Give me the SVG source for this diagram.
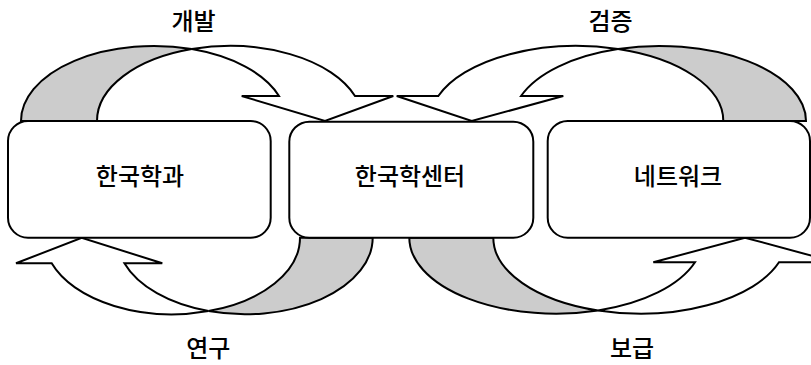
<svg xmlns="http://www.w3.org/2000/svg" width="811" height="365" viewBox="0 0 811 365">
<style>
.band{fill:#ffffff;stroke:#000;stroke-width:2;stroke-linejoin:miter}
.back{fill:#cccccc;stroke:#000;stroke-width:2}
.box{fill:#ffffff;stroke:#000;stroke-width:2}
text{font-family:"Noto Sans CJK KR","Noto Sans",sans-serif;font-size:24px;font-weight:500;fill:#000;text-anchor:middle}
</style>
<rect width="811" height="365" fill="#ffffff"/>
<g id="connectors">
  <g id="arrow-develop">
    <path class="back" d="M21,121 A132.8,75 0 0,1 191.8,49.1 A132.8,75 0 0,0 97,121 Z"/>
    <path class="band" d="M191.8,49.1 A132.8,75 0 0,1 355,96 L393.3,96 L325,121 L241.7,96 L279,96 A132.8,75 0 0,0 191.8,49.1 Z"/>
  </g>
  <g id="arrow-verify">
    <path class="back" d="M806,121 A146.7,75 0 0,0 618,49 A146.7,75 0 0,1 723.3,121 Z"/>
    <path class="band" d="M618,49 A146.7,75 0 0,0 438.3,96 L396.7,96 L471.7,121 L563.3,96 L521,96 A146.7,75 0 0,1 618,49 Z"/>
  </g>
  <g id="arrow-research">
    <path class="back" d="M300,237.7 A127.8,76.6 0 0,1 208.5,311.1 A127.8,76.6 0 0,0 372.7,237.7 Z"/>
    <path class="band" d="M208.5,311.1 A127.8,76.6 0 0,1 51.7,263.3 L16,263.3 L81.7,237.7 L162.3,263.3 L124.4,263.3 A127.8,76.6 0 0,0 208.5,311.1 Z"/>
  </g>
  <g id="arrow-spread">
    <path class="back" d="M409.3,237.7 A146.8,76 0 0,0 598.1,310.5 A146.8,76 0 0,1 493.3,237.7 Z"/>
    <path class="band" d="M598.1,310.5 A146.8,76 0 0,0 695,262.3 L653.3,262.3 L745,237.7 L836,262.3 L779,262.3 A146.8,76 0 0,1 598.1,310.5 Z"/>
  </g>
</g>
<g id="node-dept">
  <rect class="box" x="8" y="121" width="262.7" height="116.7" rx="20" ry="20"/>
  <text x="140" y="185">한국학과</text>
</g>
<g id="node-center">
  <rect class="box" x="289.3" y="121.7" width="244" height="116" rx="20" ry="20"/>
  <text x="410" y="185">한국학센터</text>
</g>
<g id="node-network">
  <rect class="box" x="547.7" y="121" width="262.3" height="116.7" rx="20" ry="20"/>
  <text x="678" y="185">네트워크</text>
</g>
<g id="labels">
  <text x="193.5" y="30">개발</text>
  <text x="610.5" y="30">검증</text>
  <text x="208.3" y="357">연구</text>
  <text x="632" y="357">보급</text>
</g>
</svg>
